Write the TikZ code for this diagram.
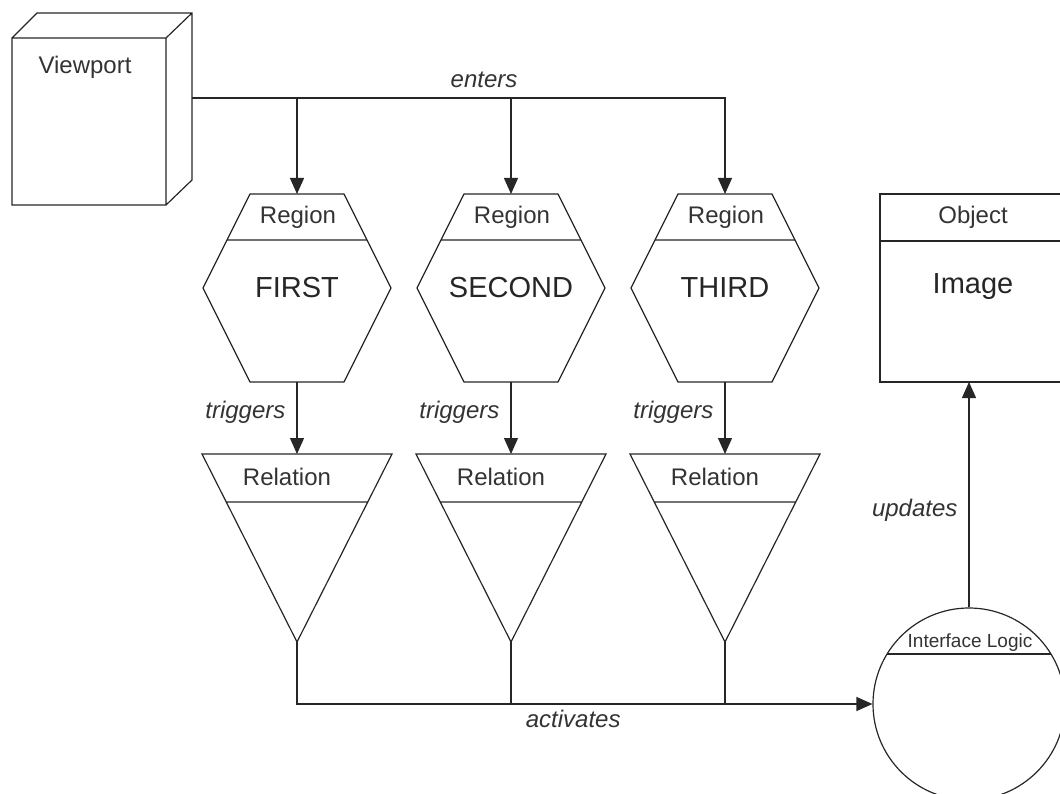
\documentclass[tikz,border=0pt]{standalone}
\usepackage{fontspec}
\setmainfont{Liberation Sans}
\usetikzlibrary{arrows.meta,positioning,calc}

\begin{document}
\begin{tikzpicture}[x=1pt,y=-1pt,font=\fontsize{24}{26}\selectfont,
  lbl/.style={text=black!80,inner sep=0pt},
  big/.style={font=\fontsize{29}{32}\selectfont,text=black!85,inner sep=0pt},
  verb/.style={font=\fontsize{24}{26}\selectfont\itshape,text=black!80,inner sep=0pt},
  shp/.style={draw=black!85,line width=1.2pt},
  arr/.style={-{Triangle[length=16pt,width=14pt]},line width=1.2pt,draw=black!85}]
\useasboundingbox (0,0) rectangle (1060,794);
\clip (0,0) rectangle (1060,794);
% viewport box
\draw[shp] (12,38) rectangle (166,205) (12,38) -- (37,13) -- (192,13) -- (192,180) -- (166,205) (166,38) -- (192,13);
\node[lbl] (vp) at (85,67) {Viewport};
\coordinate (vp-out) at (192,98);
% regions and relations
\foreach \cx/\n/\name in {297/1/FIRST,511/2/SECOND,725/3/THIRD}{
  \draw[shp] (\cx-47,194) -- (\cx+47,194) -- (\cx+94,288) -- (\cx+47,382) -- (\cx-47,382) -- (\cx-94,288) -- cycle (\cx-70,240) -- (\cx+70,240);
  \node[lbl] (reghd\n) at (\cx+1,217) {Region};
  \node[big] (reg\n) at (\cx,288) {\name};
  \coordinate (reg\n-t) at (\cx,194);
  \coordinate (reg\n-b) at (\cx,382);
  \draw[shp] (\cx-95,454) -- (\cx+95,454) -- (\cx,642) -- cycle (\cx-71,502) -- (\cx+71,502);
  \node[lbl] (rel\n) at (\cx-10,477) {Relation};
  \coordinate (rel\n-t) at (\cx,454);
  \coordinate (rel\n-a) at (\cx,642);
  \draw[arr] (reg\n-b) -- node[verb,pos=0.42,left=11pt] {triggers} (rel\n-t);
}
% object and interface logic
\draw[shp] (880,194) rectangle (1066,382) (880,241) -- (1066,241);
\node[lbl] (objhd) at (973,217) {Object};
\node[big] (img) at (973,287) {Image};
\coordinate (obj-b) at (969,382);
\node[shp,circle,minimum size=192pt,inner sep=0pt] (il) at (969,704) {};
\draw[shp] ($(il.center)+(-82,-50)$) -- ($(il.center)+(82,-50)$);
\node[lbl,font=\fontsize{19}{21}\selectfont] (ilhd) at (970,643) {Interface Logic};
% connectors
\draw[arr] (vp-out) -| node[verb,pos=0.274,above=10pt] {enters} (reg3-t);
\draw[arr] (reg1-t |- vp-out) -- (reg1-t);
\draw[arr] (reg2-t |- vp-out) -- (reg2-t);
\draw[arr] (rel1-a) |- node[verb,pos=0.74,below=6pt] {activates} (il.west);
\draw[shp] (rel2-a) -- (rel2-a |- il.west);
\draw[shp] (rel3-a) -- (rel3-a |- il.west);
\draw[arr] (il.north) -- node[verb,pos=0.43,left=11pt] {updates} (obj-b);
\end{tikzpicture}
\end{document}
